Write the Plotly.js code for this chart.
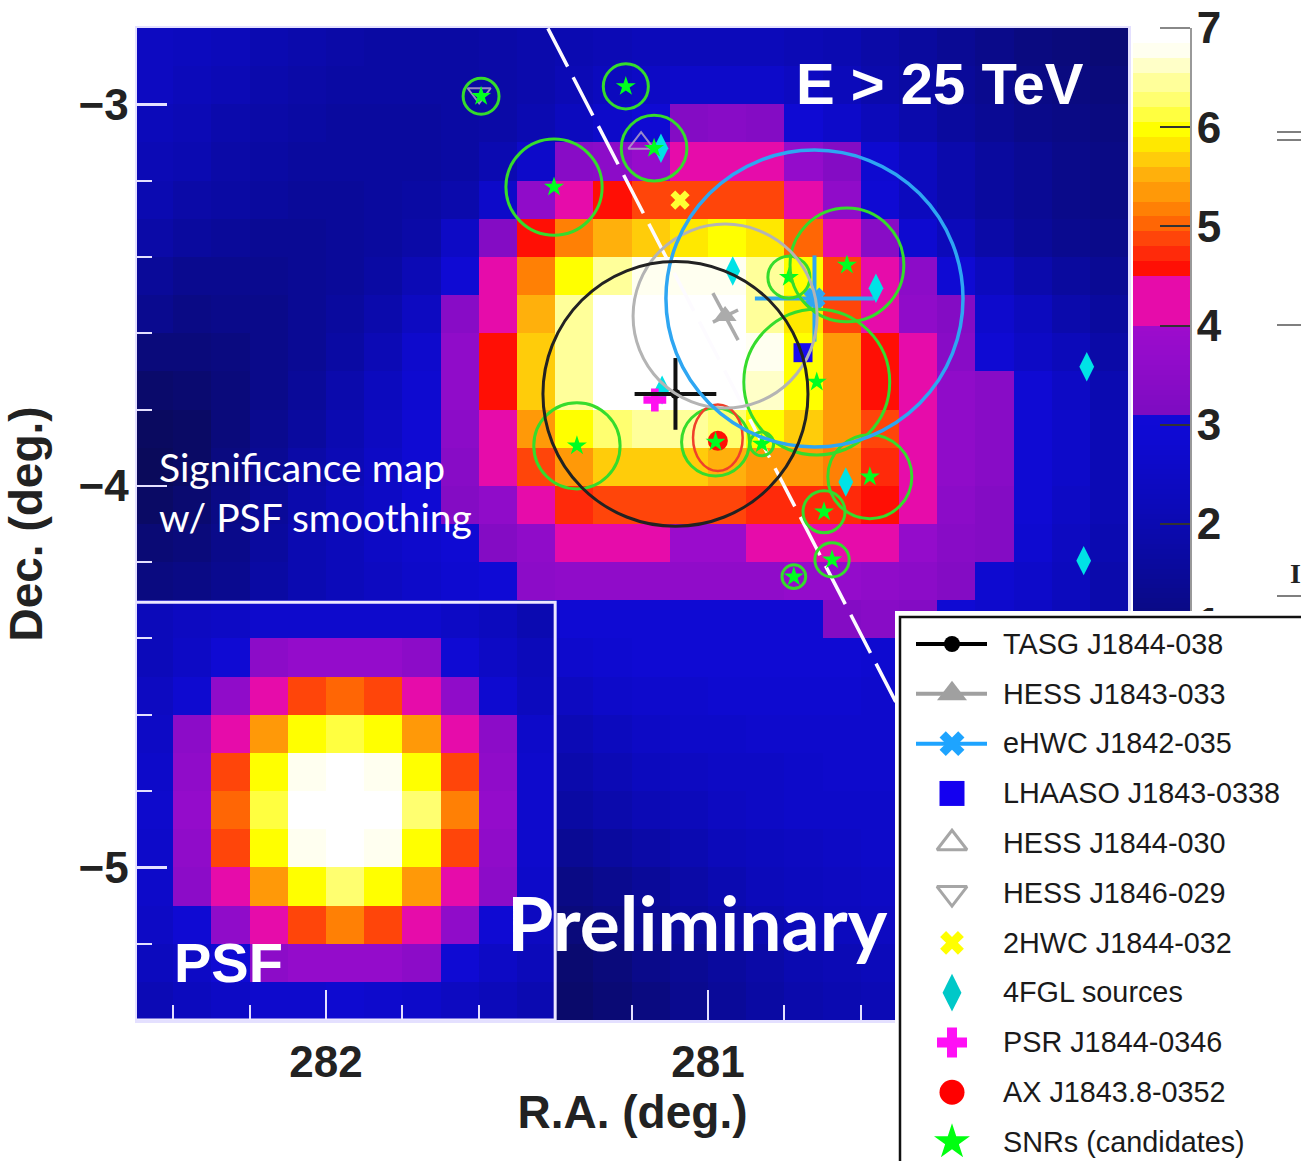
<!DOCTYPE html>
<html><head><meta charset="utf-8">
<script src="https://cdn.plot.ly/plotly-3.0.1.min.js"></script>
<style>html,body{margin:0;padding:0;background:#fff;overflow:hidden}#g{width:1301px;height:1161px}</style>
</head><body><div id="g"></div>
<script>
const raCenters=[282.45,282.35,282.25,282.15,282.05,281.95,281.85,281.75,281.65,281.55,281.45,281.35,281.25,281.15,281.05,280.95,280.85,280.75,280.65,280.55,280.45,280.35,280.25,280.15,280.05,279.95];
const decCenters=[-2.85,-2.95,-3.05,-3.15,-3.25,-3.35,-3.45,-3.55,-3.65,-3.75,-3.85,-3.95,-4.05,-4.15,-4.25,-4.35,-4.45,-4.55,-4.65,-4.75,-4.85,-4.95,-5.05,-5.15,-5.25,-5.35];
const significance=[
[2.4,2.3,2.2,2.0,1.9,1.8,1.7,1.7,1.7,1.8,1.9,2.0,2.1,2.2,2.2,2.2,2.2,2.1,2.0,1.8,1.6,1.4,1.2,1.0,0.9,0.8],
[2.4,2.2,2.1,1.9,1.8,1.7,1.7,1.7,1.7,1.8,1.9,2.1,2.3,2.5,2.6,2.6,2.6,2.4,2.2,1.9,1.7,1.5,1.3,1.1,1.0,0.9],
[2.2,2.1,1.9,1.8,1.7,1.6,1.6,1.6,1.7,1.8,2.0,2.3,2.6,2.9,3.3,3.4,3.3,2.9,2.6,2.2,1.9,1.6,1.4,1.2,1.1,1.0],
[2.1,2.0,1.8,1.7,1.6,1.6,1.6,1.6,1.7,2.0,2.6,3.4,3.5,3.8,4.1,4.2,4.1,3.7,3.3,2.8,2.3,1.9,1.6,1.4,1.2,1.1],
[2.0,1.8,1.7,1.6,1.5,1.5,1.6,1.7,1.9,2.6,3.6,4.2,4.6,4.9,4.9,4.9,4.9,4.2,3.6,2.9,2.3,1.9,1.6,1.4,1.2,1.1],
[1.8,1.6,1.5,1.4,1.4,1.5,1.6,1.8,2.5,3.3,4.6,5.2,5.5,5.7,5.85,5.95,5.75,5.05,4.25,3.4,2.8,2.2,1.8,1.5,1.3,1.2],
[1.5,1.3,1.3,1.3,1.4,1.5,1.7,2.1,2.9,4.25,5.2,5.97,6.45,6.7,6.75,6.75,6.5,6.0,4.9,4.25,3.5,2.9,2.3,1.9,1.6,1.4],
[1.3,1.1,1.2,1.2,1.4,1.6,1.9,2.4,3.4,4.3,5.5,6.5,6.95,6.95,6.95,6.95,6.5,5.75,4.95,4.3,3.6,3.3,2.7,2.3,1.9,1.6],
[0.9,0.9,1.0,1.2,1.4,1.7,2.1,2.7,3.6,4.6,5.7,6.5,6.95,6.95,6.95,6.95,6.75,6.0,5.3,4.6,4.25,3.4,2.9,2.5,2.2,1.8],
[0.6,0.7,0.9,1.2,1.5,1.9,2.3,2.8,3.6,4.6,5.6,6.4,6.95,6.95,6.95,6.9,6.6,5.97,5.4,4.6,4.3,3.6,3.4,2.9,2.5,2.0],
[0.4,0.5,0.9,1.3,1.6,2.0,2.4,2.9,3.5,4.3,5.3,6.0,6.3,6.5,6.5,6.3,6.0,5.7,5.3,4.85,4.3,3.6,3.4,2.9,2.6,2.1],
[0.3,0.5,1.0,1.4,1.8,2.1,2.5,2.9,3.4,4.2,4.95,5.3,5.6,5.6,5.6,5.55,5.4,5.3,5.15,4.75,4.3,3.6,3.4,2.9,2.6,2.1],
[0.5,0.7,1.1,1.5,1.9,2.2,2.5,2.9,3.3,3.6,4.2,4.7,4.85,4.85,4.85,4.85,4.7,4.7,4.65,4.6,4.2,3.5,3.3,2.9,2.5,2.1],
[0.8,0.9,1.2,1.6,2.0,2.2,2.5,2.7,2.9,3.3,3.6,4.2,4.2,4.2,3.9,3.9,4.2,4.2,4.2,4.2,3.7,3.4,3.3,2.8,2.4,2.0],
[1.0,1.1,1.3,1.7,2.0,2.2,2.4,2.6,2.8,3.0,3.5,3.6,3.6,3.6,3.6,3.6,3.6,3.7,3.7,3.6,3.5,3.3,2.8,2.6,2.3,1.9],
[2.2,2.4,2.5,2.7,2.7,2.7,2.7,2.7,2.5,2.3,2.0,2.9,2.9,2.9,2.9,2.9,2.9,2.9,3.3,3.4,3.3,2.9,2.7,2.5,2.2,1.9],
[2.2,2.5,2.9,3.5,3.7,3.7,3.7,3.5,2.9,2.5,2.2,2.7,2.8,2.9,2.9,2.9,2.9,2.9,2.9,2.8,2.7,2.6,2.5,2.3,2.1,1.8],
[2.4,2.8,3.6,4.25,4.9,5.05,4.9,4.25,3.6,2.8,2.3,2.4,2.6,2.7,2.7,2.8,2.8,2.8,2.8,2.7,2.6,2.5,2.4,2.2,2.0,1.7],
[2.5,3.5,4.25,5.35,5.97,6.15,5.97,5.35,4.25,3.5,2.6,2.1,2.3,2.5,2.6,2.6,2.7,2.7,2.7,2.7,2.6,2.5,2.4,2.2,2.0,1.7],
[2.6,3.6,4.9,5.97,6.75,6.95,6.75,5.97,4.9,3.6,2.7,1.9,2.1,2.3,2.4,2.5,2.5,2.6,2.7,2.7,2.6,2.5,2.3,2.1,1.9,1.6],
[2.7,3.7,5.05,6.2,6.95,6.95,6.95,6.3,5.2,3.7,2.7,1.7,1.9,2.1,2.2,2.4,2.5,2.6,2.6,2.6,2.6,2.4,2.3,2.1,1.9,1.6],
[2.6,3.6,4.9,5.97,6.75,6.95,6.75,5.97,4.9,3.6,2.7,1.4,1.6,1.8,2.0,2.2,2.3,2.4,2.5,2.6,2.6,2.4,2.2,2.0,1.8,1.5],
[2.6,3.5,4.25,5.35,5.97,6.3,5.97,5.35,4.25,3.5,2.6,1.1,1.3,1.5,1.8,2.0,2.2,2.3,2.4,2.5,2.5,2.3,2.1,1.9,1.7,1.5],
[2.5,2.9,3.6,4.25,4.9,5.2,4.9,4.25,3.6,2.9,2.4,0.9,1.1,1.4,1.6,1.8,2.0,2.2,2.3,2.4,2.4,2.2,2.0,1.8,1.6,1.4],
[2.3,2.5,2.9,3.5,3.7,3.7,3.7,3.5,2.9,2.5,2.2,0.7,0.9,1.2,1.4,1.6,1.8,2.0,2.1,2.2,2.3,2.1,1.9,1.7,1.5,1.3],
[2.1,2.3,2.5,2.7,2.7,2.8,2.7,2.6,2.4,2.2,2.0,0.6,0.8,1.0,1.3,1.5,1.7,1.9,2.0,2.1,2.2,2.0,1.8,1.6,1.4,1.2]
];
const rampValues=[-3,0.1,1.0,1.6,2.2,2.8,3.1];
const rampColors=['#0a0a30','#0a0a50','#0a0a80','#0a0a9e','#0c0aba','#0e0ad0','#100ad8'];
const purpleValues=[3.1,3.4,3.7,4.02];
const purpleColors=['#7c0cc0','#880cc6','#940ccb','#9e0ccc'];
const bandEdges=[4.02,4.49,4.65,4.81,4.97,5.11,5.27,5.43,5.59,5.75,5.89,6.05,6.21,6.37,6.53,6.69,6.83,7];
const bandColors=['#e60caa','#ff0f05','#ff2a0a','#ff450a','#ff6605','#ff8005','#ff9908','#ffb00c','#ffcc0a','#ffe800','#ffff00','#ffff40','#ffff70','#ffff9a','#ffffc8','#fffff0','#ffffff'];

const snrRa=[281.594,281.215,281.141,281.403,280.636,280.788,280.715,281.343,280.980,280.859,280.576,280.696,280.675,280.775];
const snrDec=[-2.979,-2.953,-3.115,-3.217,-3.421,-3.453,-3.728,-3.895,-3.885,-3.890,-3.976,-4.068,-4.194,-4.238];
const snrRadius=[0.047,0.059,0.086,0.126,0.149,0.055,0.191,0.113,0.089,0.031,0.110,0.055,0.045,0.031];
const fglRa=[281.123,280.935,280.560,280.008,280.016,280.639,281.120];
const fglDec=[-3.115,-3.437,-3.482,-3.688,-4.196,-3.990,-3.749];
const planeRa=[281.419,280.470];
const planeDec=[-2.801,-4.640];
const tasg={ra:281.085,dec:-3.759,r:0.347,ex:0.107,ey:0.094};
const hess033={ra:280.955,dec:-3.555,r:0.241};
const hessErrARa=[280.987,280.921],hessErrADec=[-3.495,-3.618];
const hessErrBRa=[280.987,280.921],hessErrBDec=[-3.571,-3.539];
const ehwc={ra:280.721,dec:-3.509,r:0.389,ex:0.156,ey:0.113};
const lhaaso={ra:280.751,dec:-3.651};
const hess030={ra:281.175,dec:-3.102};
const hess029={ra:281.599,dec:-2.971};
const hwc2={ra:281.073,dec:-3.251};
const psr={ra:281.139,dec:-3.775};
const ax={ra:280.974,dec:-3.882,ellRa:0.065,ellDec:0.087,ellCenterDec:-3.874};
const legendLabels=['TASG J1844-038','HESS J1843-033','eHWC J1842-035','LHAASO J1843-0338','HESS J1844-030','HESS J1846-029','2HWC J1844-032','4FGL sources','PSR J1844-0346','AX J1843.8-0352','SNRs (candidates)'];
const FONT='"Liberation Sans",Arial,sans-serif';
const INK='#222';
const GREEN='#35dc2c',GREY='#ababab',BLUE='#2ea6f2',SQ='#1a0af0',CY='#00e2e6',STAR='#00ff20';

const px=x=>x/1301, py=y=>1-y/1161;
const zmin=rampValues[0],zmax=bandEdges[bandEdges.length-1];
const nz=v=>(v-zmin)/(zmax-zmin);
const scale=[];
rampValues.forEach((v,i)=>scale.push([nz(v),rampColors[i]]));
purpleValues.forEach((v,i)=>scale.push([nz(v),purpleColors[i]]));
bandColors.forEach((c,i)=>{scale.push([nz(bandEdges[i]),c]);scale.push([nz(bandEdges[i+1]),c]);});
const stripEdges=[],stripZ=[];
for(let k=0;k<=200;k++){stripEdges.push(zmin+(zmax-zmin)*k/200);}
for(let k=0;k<200;k++){stripZ.push([(stripEdges[k]+stripEdges[k+1])/2]);}

const traces=[];
traces.push({type:'heatmap',x:raCenters,y:decCenters,z:significance,colorscale:scale,zmin,zmax,showscale:false,hoverinfo:'skip',xaxis:'x',yaxis:'y'});
traces.push({type:'scatter',mode:'lines',x:planeRa,y:planeDec,line:{color:'#fdfbff',width:3.5,dash:'43px,12px'},hoverinfo:'skip',showlegend:false});
traces.push({type:'scatter',mode:'lines',x:hessErrARa,y:hessErrADec,line:{color:GREY,width:3.5},showlegend:false});
traces.push({type:'scatter',mode:'lines',x:hessErrBRa,y:hessErrBDec,line:{color:GREY,width:3.5},showlegend:false});
const pt=(o,sym,size,color,extra)=>Object.assign({type:'scatter',mode:'markers',x:[o.ra],y:[o.dec],showlegend:false,
  marker:Object.assign({symbol:sym,size,color,line:{width:0}},extra||{})});
traces.push(pt(hess033,'triangle-up',20,GREY));
traces.push(pt(hess030,'triangle-up-open',22,'rgba(176,160,200,.85)',{line:{width:2,color:'rgba(176,160,200,.85)'}}));
traces.push(pt(hess029,'triangle-down-open',20,'rgba(176,160,200,.85)',{line:{width:2,color:'rgba(176,160,200,.85)'}}));
traces.push(Object.assign(pt(ehwc,'x',17,BLUE,{line:{width:2,color:BLUE}}),{error_x:{type:'constant',value:ehwc.ex,width:0,color:BLUE,thickness:4},error_y:{type:'constant',value:ehwc.ey,width:0,color:BLUE,thickness:4}}));
traces.push(pt(lhaaso,'square',19,SQ));
traces.push(pt(hwc2,'x',17,'#ffff33'));
traces.push({type:'scatter',mode:'markers',x:fglRa,y:fglDec,showlegend:false,marker:{symbol:'diamond-tall',size:21,color:CY}});
traces.push(pt(psr,'cross',19,'#ff10f0'));
traces.push(pt(ax,'circle',20,'#ff0f05'));
traces.push(Object.assign(pt(tasg,'circle',10,'#111'),{error_x:{type:'constant',value:tasg.ex,width:0,color:'#111',thickness:4},error_y:{type:'constant',value:tasg.ey,width:0,color:'#111',thickness:4}}));
traces.push({type:'scatter',mode:'markers',x:snrRa,y:snrDec,showlegend:false,marker:{symbol:'star',size:15,color:STAR}});

traces.push({type:'heatmap',x:[0,1],y:stripEdges,z:stripZ,colorscale:scale,zmin,zmax,showscale:false,hoverinfo:'skip',xaxis:'x2',yaxis:'y2'});

const keySpec=[
 {sym:'circle',size:16,color:'#000',line:'#000'},
 {sym:'triangle-up',size:26,color:'#a0a0a0',line:'#a0a0a0'},
 {sym:'x',size:22,color:'#1ea4ff',line:'#1ea4ff'},
 {sym:'square',size:25,color:'#1400f0'},
 {sym:'triangle-up-open',size:26,color:'#a6a6a6',lw:3},
 {sym:'triangle-down-open',size:26,color:'#a6a6a6',lw:3},
 {sym:'x',size:21,color:'#ffff00'},
 {sym:'diamond-tall',size:27,color:'#00c8c8'},
 {sym:'cross',size:25,color:'#ff10f5'},
 {sym:'circle',size:25,color:'#ff0000'},
 {sym:'star',size:27,color:'#00ff10'}
];
legendLabels.forEach((name,i)=>{
  const s=keySpec[i];
  if(s.line) traces.push({type:'scatter',mode:'lines',x:[21,92],y:[i,i],xaxis:'x3',yaxis:'y3',showlegend:false,line:{color:s.line,width:4}});
  traces.push({type:'scatter',mode:'markers',x:[57],y:[i],xaxis:'x3',yaxis:'y3',showlegend:false,
    marker:{symbol:s.sym,size:s.size,color:s.color,line:{width:s.lw||0,color:s.color}}});
});
traces.push({type:'scatter',mode:'text',x:legendLabels.map(()=>108),y:legendLabels.map((n,i)=>i+0.05),text:legendLabels,textposition:'middle right',
  textfont:{family:FONT,size:28.8,color:'#1a1a1a'},xaxis:'x3',yaxis:'y3',showlegend:false,cliponaxis:false});

const circle=(ra,dec,r,color,w)=>({type:'circle',xref:'x',yref:'y',x0:ra-r,x1:ra+r,y0:dec-r,y1:dec+r,layer:'above',line:{color,width:w}});
const shapes=[];
shapes.push({type:'rect',xref:'x',yref:'y',x0:282.6,x1:281.40,y0:-5.4,y1:-4.305,layer:'above',line:{color:'#ece8ff',width:3}});
snrRa.forEach((ra,i)=>shapes.push(circle(ra,snrDec[i],snrRadius[i],GREEN,3)));
shapes.push({type:'circle',xref:'x',yref:'y',x0:ax.ra-ax.ellRa,x1:ax.ra+ax.ellRa,y0:ax.ellCenterDec-ax.ellDec,y1:ax.ellCenterDec+ax.ellDec,layer:'above',line:{color:'#f0402a',width:2.5}});
shapes.push(circle(hess033.ra,hess033.dec,hess033.r,'#b4b4b4',3));
shapes.push(circle(ehwc.ra,ehwc.dec,ehwc.r,BLUE,3.5));
shapes.push(circle(tasg.ra,tasg.dec,tasg.r,'#222',3));
shapes.push({type:'rect',xref:'paper',yref:'paper',x0:px(900),x1:px(1320),y0:py(617),y1:py(1180),layer:'above',line:{color:'#111',width:2.5}});
// top tick of the colour strip
shapes.push({type:'line',xref:'paper',yref:'paper',x0:px(1160),x1:px(1190),y0:py(28),y1:py(28),layer:'above',line:{color:'#888',width:2}});
[[132,1277],[140,1277],[325,1277],[596,1277]].forEach(([y,x])=>shapes.push({type:'line',xref:'paper',yref:'paper',x0:px(x),x1:px(1301),y0:py(y),y1:py(y),line:{color:'#555',width:1.5}}));

const ann=(text,x,y,font)=>({text,xref:'paper',yref:'paper',x:px(x),y:py(y),xanchor:'left',yanchor:'middle',showarrow:false,align:'left',font});
const annotations=[
 ann('E &gt; 25 TeV',794,83,{family:FONT,size:58,color:'#fff',weight:700}),
 ann('PSF',172,962,{family:FONT,size:56,color:'#fff',weight:700}),
 ann('Significance map',157,467,{family:'Lato',size:39,color:'#fff'}),
 ann('w/ PSF smoothing',157,517,{family:'Lato',size:39,color:'#fff'}),
 ann('Preliminary',505,922,{family:'Lato',size:75,color:'#fff',weight:700}),
 ann('I',1288,573,{family:'"Liberation Serif",serif',size:28,color:'#222',weight:700})
];

const ticks=(extra)=>Object.assign({showgrid:false,zeroline:false,ticks:'inside',ticklen:30,tickwidth:2.5,tickcolor:'#e4e0ff',
  showline:true,mirror:true,linecolor:'#e4e0ff',linewidth:2.5,tickfont:{family:FONT,size:44,color:INK,weight:700},automargin:true},extra);
const layout={
  width:1301,height:1161,margin:{l:0,r:0,t:0,b:0},paper_bgcolor:'#fff',plot_bgcolor:'#fff',showlegend:false,
  xaxis:ticks({domain:[px(137),px(1128)],range:[282.495,279.9],tickmode:'array',tickvals:[282,281],ticktext:['282','281'],ticklabelstandoff:2,
    minor:{tickmode:'linear',dtick:0.2,tick0:282,ticks:'inside',ticklen:15,tickwidth:2,tickcolor:'#e4e0ff'},
    title:{text:'R.A. (deg.)',font:{family:FONT,size:46,color:INK,weight:700},standoff:8}}),
  yaxis:ticks({domain:[py(1020),py(28)],range:[-5.4,-2.8],tickmode:'array',tickvals:[-3,-4,-5],ticktext:['\u22123','\u22124','\u22125'],ticklabelstandoff:-3,
    minor:{tickmode:'linear',dtick:0.2,tick0:-3,ticks:'inside',ticklen:15,tickwidth:2,tickcolor:'#e4e0ff'},
    title:{text:'Dec. (deg.)',font:{family:FONT,size:46,color:INK,weight:700},standoff:22}}),
  xaxis2:{domain:[px(1133),px(1190)],range:[0,1],anchor:'y2',showticklabels:false,ticks:'',showgrid:false,zeroline:false,showline:false},
  yaxis2:{domain:[py(1020),py(28)],range:[-3,7],anchor:'x2',side:'right',tickmode:'array',tickvals:[7,6,5,4,3,2,1],ticklabelstandoff:-4,ticks:'inside',ticklen:30,tickwidth:2,tickcolor:'#333',
    showline:true,linecolor:'#999',linewidth:2,showgrid:false,zeroline:false,tickfont:{family:FONT,size:44,color:INK,weight:700}},
  xaxis3:{domain:[px(895),1],range:[0,406],anchor:'y3',visible:false,fixedrange:true},
  yaxis3:{domain:[0,py(611)],range:[10.38,-0.663],anchor:'x3',visible:false,fixedrange:true},
  shapes,annotations
};
Plotly.newPlot('g',traces,layout,{displayModeBar:false,staticPlot:true});
</script></body></html>
